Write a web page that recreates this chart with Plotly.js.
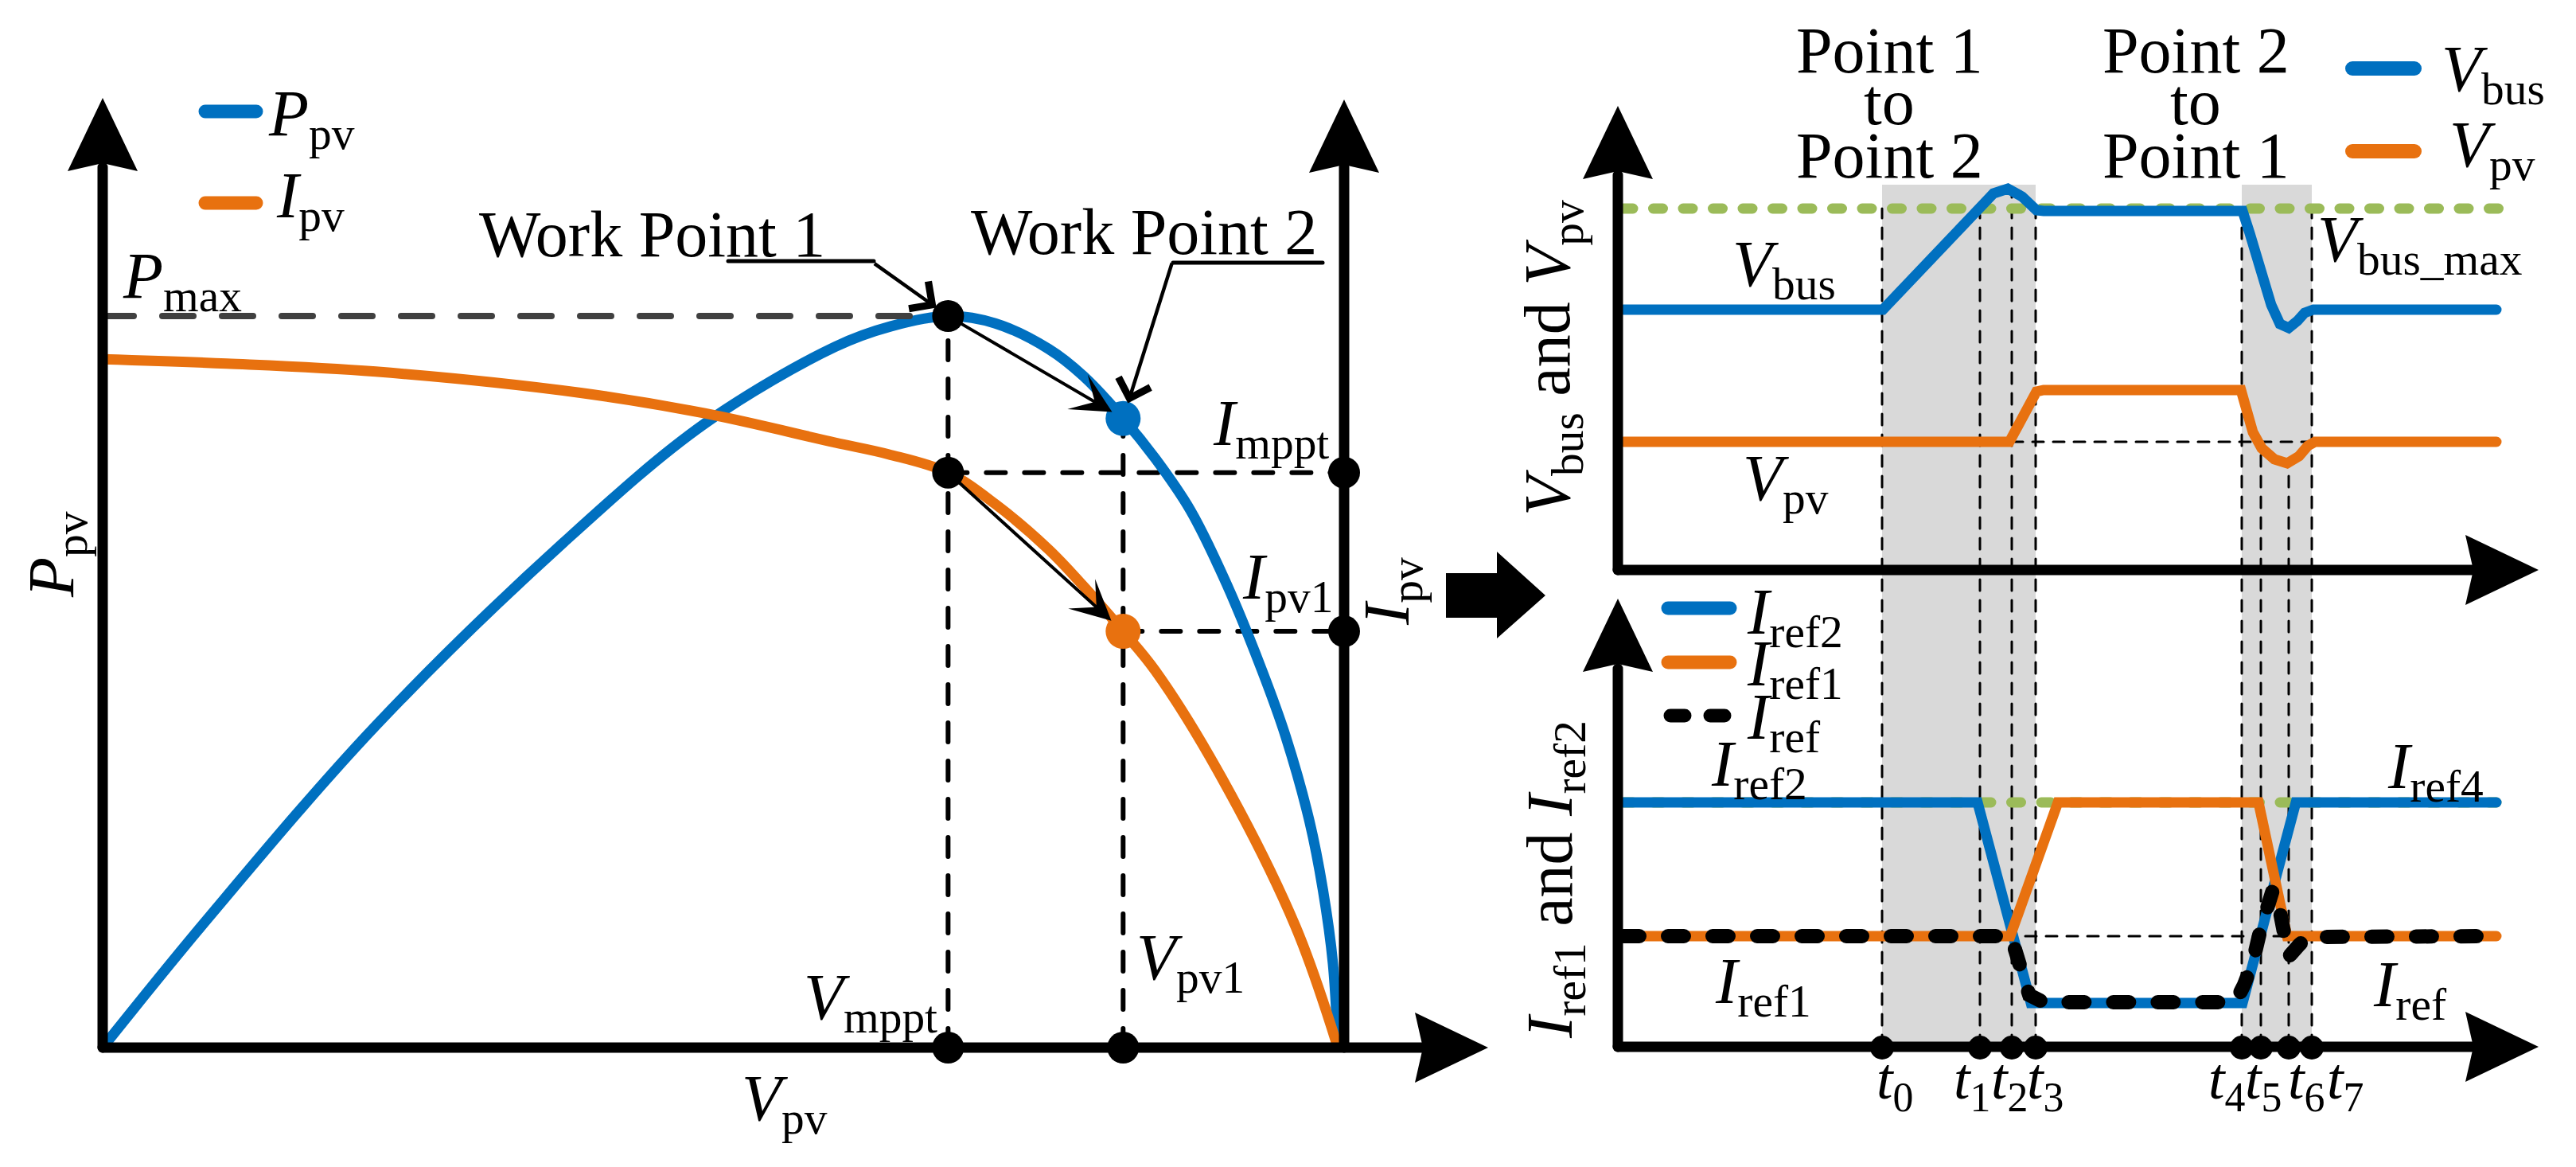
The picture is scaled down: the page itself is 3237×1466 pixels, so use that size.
<!DOCTYPE html>
<html><head><meta charset="utf-8">
<script src="https://cdn.plot.ly/plotly-3.0.1.min.js"></script>
<style>
html,body{margin:0;padding:0;background:#fff;}
#chart{width:3237px;height:1466px;}
.js-line, .shapelayer path { stroke-linecap: round !important; }
</style></head><body><div id="chart"></div>
<script>
// ---------------- DATA ----------------
// Left panel: normalised P-V and I-V curves (V / Voc)
const pvVoltage = [0, 0.084, 0.22, 0.371, 0.485, 0.59, 0.635, 0.681, 0.719, 0.762, 0.79, 0.822, 0.848, 0.876, 0.905, 0.934, 0.953, 0.972, 0.983, 0.991, 0.995];
const pvPower   = [0, 0.175, 0.44, 0.69, 0.853, 0.958, 0.986, 1.0, 0.990, 0.955, 0.918, 0.860, 0.805, 0.735, 0.635, 0.515, 0.425, 0.31, 0.215, 0.115, 0];
const ivVoltage = [0, 0.1, 0.22, 0.385, 0.485, 0.59, 0.633, 0.681, 0.719, 0.762, 0.79, 0.822, 0.848, 0.901, 0.961, 0.995];
const ivCurrent = [0.941, 0.935, 0.924, 0.895, 0.867, 0.827, 0.811, 0.786, 0.743, 0.681, 0.631, 0.569, 0.515, 0.37, 0.165, 0];
const Voc = 1.0, Vmppt = 0.681, Vpv1 = 0.822, Pmax = 1.0, Pwp2 = 0.860, Imppt = 0.786, Ipv1 = 0.569;

// Right panels: time instants t0..t7
const tNames    = ['0','1','2','3','4','5','6','7'];
const tInstants = [33.2, 45.5, 49.5, 52.5, 78.4, 80.8, 84.3, 87.2];
const tLineTops = [262, 270, 240, 262, 262, 560, 583, 262]; // pixel tops of guide lines

// Top: Vbus and Vpv
const vbusTime  = [0.7, 33.3, 47.2, 49.0, 50.8, 51.7, 52.6, 53.5, 78.5, 79.4, 80.7, 82.1, 83.2, 84.3, 85.4, 86.3, 87.4, 110.4];
const vbusValue = [32.7, 32.7, 47.3, 47.9, 46.9, 45.9, 45.2, 45.1, 45.1, 42.3, 37.6, 33.3, 30.9, 30.4, 31.3, 32.3, 32.7, 32.7];
const vpvTime   = [0.7, 49.2, 52.6, 53.5, 78.3, 78.9, 79.8, 80.9, 82.5, 84.1, 85.6, 86.7, 87.6, 110.4];
const vpvValue  = [16.1, 16.1, 22.4, 22.6, 22.6, 20.6, 17.3, 15.3, 13.9, 13.4, 14.3, 15.6, 16.1, 16.1];
const vbusMaxTime = [0.7, 111.3];
const vbusMax = 45.4;
const vpvBase = 16.1;

// Bottom: Iref2, Iref1, Iref
const iref2Time  = [0.7, 45.2, 51.9, 78.5, 85.2, 110.4];
const iref2Value = [30.8, 30.8, 5.6, 5.6, 30.8, 30.8];
const iref1Time  = [0.7, 49.3, 55.3, 80.5, 84.1, 110.4];
const iref1Value = [14.0, 14.0, 30.8, 30.8, 14.0, 14.0];
const irefTime   = [0.7, 49.4, 50.8, 51.7, 53.5, 77.6, 78.7, 79.8, 80.7, 81.6, 82.3, 83.0, 83.6, 84.3, 85.6, 86.7, 110.4];
const irefValue  = [14.0, 14.0, 9.4, 6.6, 5.7, 5.7, 7.9, 10.8, 14.6, 18.2, 19.8, 18.1, 14.3, 11.4, 12.9, 13.9, 14.0];
const iref2Level = 30.8, iref1Base = 14.0;
const irefLevelTime = [0.7, 110.4];

// ---------------- STYLE ----------------
const W = 3237, H = 1466;
const X = v => v / W, Y = v => 1 - v / H;
const BLUE = '#0070c0', ORANGE = '#e8710f', GREEN = '#9bbb59', GRAY = '#d9d9d9';
const FONT = 'Liberation Serif, "Times New Roman", serif';

const traces = [];
// left panel
traces.push({x: pvVoltage, y: pvPower, xaxis:'x', yaxis:'y', mode:'lines', line:{color:BLUE, width:13, shape:'spline', smoothing:1}, cliponaxis:false});
traces.push({x: ivVoltage, y: ivCurrent, xaxis:'x', yaxis:'y', mode:'lines', line:{color:ORANGE, width:13, shape:'spline', smoothing:1}, cliponaxis:false});
traces.push({x: [0, Vmppt], y: [Pmax, Pmax], xaxis:'x', yaxis:'y', mode:'lines', line:{color:'#404040', width:8, dash:'39px,36px'}, cliponaxis:false});
traces.push({x: [Vmppt, Vmppt, Voc, Voc, Vmppt, Vpv1], y: [Pmax, Imppt, Imppt, Ipv1, 0, 0], xaxis:'x', yaxis:'y', mode:'markers', marker:{color:'#000', size:40}, cliponaxis:false});
traces.push({x: [Vpv1], y: [Pwp2], xaxis:'x', yaxis:'y', mode:'markers', marker:{color:BLUE, size:44}, cliponaxis:false});
traces.push({x: [Vpv1], y: [Ipv1], xaxis:'x', yaxis:'y', mode:'markers', marker:{color:ORANGE, size:44}, cliponaxis:false});
// top right panel
traces.push({x: vbusMaxTime, y: [vbusMax, vbusMax], xaxis:'x2', yaxis:'y2', mode:'lines', line:{color:GREEN, width:13, dash:'12px,25.5px'}, cliponaxis:false});
traces.push({x: vbusTime, y: vbusValue, xaxis:'x2', yaxis:'y2', mode:'lines', line:{color:BLUE, width:13}, cliponaxis:false});
traces.push({x: vpvTime, y: vpvValue, xaxis:'x2', yaxis:'y2', mode:'lines', line:{color:ORANGE, width:13}, cliponaxis:false});
// bottom right panel
traces.push({x: irefLevelTime, y: [iref2Level, iref2Level], xaxis:'x3', yaxis:'y3', mode:'lines', line:{color:GREEN, width:13, dash:'12px,25.5px'}, cliponaxis:false});
traces.push({x: iref2Time, y: iref2Value, xaxis:'x3', yaxis:'y3', mode:'lines', line:{color:BLUE, width:13}, cliponaxis:false});
traces.push({x: iref1Time, y: iref1Value, xaxis:'x3', yaxis:'y3', mode:'lines', line:{color:ORANGE, width:13}, cliponaxis:false});
traces.push({x: irefTime, y: irefValue, xaxis:'x3', yaxis:'y3', mode:'lines', line:{color:'#000', width:18, dash:'20px,36px'}, cliponaxis:false});
traces.push({x: tInstants, y: tInstants.map(() => 0), xaxis:'x3', yaxis:'y3', mode:'markers', marker:{color:'#000', size:30}, cliponaxis:false});

// ---------------- SHAPES ----------------
const shapes = [];
function pline(x0, y0, x1, y1, width, color, layer, dash) {
  shapes.push({type:'line', xref:'paper', yref:'paper', x0:X(x0), y0:Y(y0), x1:X(x1), y1:Y(y1),
    line:{color:color || '#000', width:width, dash: dash || 'solid'}, layer: layer || 'above'});
}
function poly(pts, color) {
  const d = pts.map((p, i) => (i ? 'L' : 'M') + X(p[0]).toFixed(6) + ',' + Y(p[1]).toFixed(6)).join(' ') + ' Z';
  shapes.push({type:'path', xref:'paper', yref:'paper', path:d, fillcolor:color || '#000', line:{width:0}, layer:'above'});
}
const upHead = (x, t) => poly([[x, t], [x + 44, t + 92], [x, t + 82], [x - 44, t + 92]]);
const rightHead = (t, y) => poly([[t, y], [t - 92, y - 44], [t - 82, y], [t - 92, y + 44]]);

// shading bands and guide lines (below traces)
shapes.push({type:'rect', xref:'x2', yref:'paper', x0:tInstants[0], x1:tInstants[3], y0:Y(1314), y1:Y(232), fillcolor:GRAY, line:{width:0}, layer:'below'});
shapes.push({type:'rect', xref:'x2', yref:'paper', x0:tInstants[4], x1:tInstants[7], y0:Y(1314), y1:Y(232), fillcolor:GRAY, line:{width:0}, layer:'below'});
tInstants.forEach((t, i) => {
  shapes.push({type:'line', xref:'x2', yref:'paper', x0:t, x1:t, y0:Y(1314), y1:Y(tLineTops[i]), line:{color:'#000', width:3, dash:'14px,12px'}, layer:'below'});
});
shapes.push({type:'line', xref:'x2', yref:'y2', x0:tInstants[2], x1:tInstants[7], y0:vpvBase, y1:vpvBase, line:{color:'#000', width:3, dash:'14px,12px'}, layer:'below'});
shapes.push({type:'line', xref:'x3', yref:'y3', x0:51.2, x1:86.1, y0:iref1Base, y1:iref1Base, line:{color:'#000', width:3, dash:'14px,12px'}, layer:'below'});
// left panel guide lines
const lg = {color:'#000', width:6, dash:'24px,24px'};
shapes.push({type:'line', xref:'x', yref:'y', x0:Vmppt, x1:Vmppt, y0:0, y1:Pmax, line:lg, layer:'below'});
shapes.push({type:'line', xref:'x', yref:'y', x0:Vpv1, x1:Vpv1, y0:0, y1:Pwp2, line:lg, layer:'below'});
shapes.push({type:'line', xref:'x', yref:'y', x0:Vmppt, x1:Voc, y0:Imppt, y1:Imppt, line:lg, layer:'below'});
shapes.push({type:'line', xref:'x', yref:'y', x0:Vpv1, x1:Voc, y0:Ipv1, y1:Ipv1, line:lg, layer:'below'});

// axes (left panel)
pline(129, 1316, 129, 210, 13); upHead(129, 123);
pline(129, 1316, 1790, 1316, 13); rightHead(1870, 1316);
pline(1689, 1316, 1689, 210, 13); upHead(1689, 125);
// axes (right panels)
pline(2033, 716, 2033, 220, 13); upHead(2033, 133);
pline(2033, 716, 3110, 716, 13); rightHead(3190, 716);
pline(2033, 1315, 2033, 840, 13); upHead(2033, 752);
pline(2033, 1315, 3110, 1315, 13); rightHead(3190, 1315);
// big arrow between panels
poly([[1817, 720], [1881, 720], [1881, 693], [1942, 748], [1881, 802], [1881, 776], [1817, 776]]);
// work point underlines
pline(915, 328, 1098, 328, 5);
pline(1474, 330, 1662, 330, 5);
// legend samples
pline(258, 140, 322, 140, 17, BLUE); pline(258, 255, 322, 255, 17, ORANGE);
pline(2956, 86, 3034, 86, 18, BLUE); pline(2956, 190, 3034, 190, 18, ORANGE);
pline(2096, 764, 2174, 764, 17, BLUE); pline(2096, 832, 2174, 832, 17, ORANGE);
pline(2099, 899, 2117, 899, 17, '#000'); pline(2149, 899, 2167, 899, 17, '#000');

// ---------------- ANNOTATIONS ----------------
const ann = [];
function txt(text, x, y, xa, opts) {
  ann.push(Object.assign({text:text, xref:'paper', yref:'paper', x:X(x), y:Y(y), xanchor:xa || 'center', yanchor:'middle',
    showarrow:false, font:{family:FONT, size:82, color:'#000'}}, opts || {}));
}
// left panel texts
txt('<i>P</i><sub>pv</sub>', 335, 148, 'left');
txt('<i>I</i><sub>pv</sub>', 345, 251, 'left');
txt('<i>P</i><sub>max</sub>', 152, 352, 'left');
txt('Work Point 1', 820, 294);
txt('Work Point 2', 1437, 291);
txt('<i>I</i><sub>mppt</sub>', 1672, 537, 'right');
txt('<i>I</i><sub>pv1</sub>', 1677, 730, 'right');
txt('<i>V</i><sub>mppt</sub>', 1180, 1258, 'right');
txt('<i>V</i><sub>pv1</sub>', 1426, 1208, 'left');
txt('<i>V</i><sub>pv</sub>', 930, 1385, 'left');
txt('<i>P</i><sub>pv</sub>', 70, 697, 'center', {textangle:-90});
txt('<i>I</i><sub>pv</sub>', 1748, 743, 'center', {textangle:-90});
// right panel texts
txt('Point 1', 2374, 63); txt('to', 2374, 128); txt('Point 2', 2374, 195);
txt('Point 2', 2759, 63); txt('to', 2759, 128); txt('Point 1', 2759, 195);
txt('<i>V</i><sub>bus</sub>', 3066, 92, 'left');
txt('<i>V</i><sub>pv</sub>', 3076, 187, 'left');
txt('<i>V</i><sub>bus</sub>', 2175, 337, 'left');
txt('<i>V</i><sub>pv</sub>', 2188, 606, 'left');
txt('<i>V</i><sub>bus_max</sub>', 2910, 306, 'left');
txt('<i>V</i><sub>bus</sub> and <i>V</i><sub>pv</sub>', 1950, 450, 'center', {textangle:-90});
txt('<i>I</i><sub>ref1</sub> and <i>I</i><sub>ref2</sub>', 1953, 1105, 'center', {textangle:-90});
txt('<i>I</i><sub>ref2</sub>', 2193, 774, 'left');
txt('<i>I</i><sub>ref1</sub>', 2193, 839, 'left');
txt('<i>I</i><sub>ref</sub>', 2193, 906, 'left');
txt('<i>I</i><sub>ref2</sub>', 2148, 965, 'left');
txt('<i>I</i><sub>ref1</sub>', 2153, 1238, 'left');
txt('<i>I</i><sub>ref4</sub>', 2998, 968, 'left');
txt('<i>I</i><sub>ref</sub>', 2980, 1242, 'left');
const tLabelX = [2381, 2478, 2525, 2570, 2798, 2844, 2898, 2947];
tNames.forEach((n, i) => txt('<i>t</i><sub>' + n + '</sub>', tLabelX[i], 1360, 'center', {font:{family:FONT, size:74, color:'#000'}}));

// arrows between work points
const arrowBase = {xref:'x', yref:'y', axref:'x', ayref:'y', showarrow:true, text:'', arrowhead:3, arrowsize:2.1, arrowwidth:4, arrowcolor:'#000'};
ann.push(Object.assign({}, arrowBase, {x:Vpv1, y:Pwp2, ax:Vmppt, ay:Pmax, standoff:16}));
ann.push(Object.assign({}, arrowBase, {x:Vpv1, y:Ipv1, ax:Vmppt, ay:Imppt, standoff:20}));
// leader lines for labels
const leadBase = {xref:'x', yref:'y', showarrow:true, text:' ', font:{size:1}, arrowhead:4, arrowsize:1.8, arrowwidth:4.5, arrowcolor:'#000'};
ann.push(Object.assign({}, leadBase, {x:Vmppt, y:Pmax, ax:-94, ay:-67, standoff:18}));
ann.push(Object.assign({}, leadBase, {x:Vpv1, y:Pwp2, ax:62, ay:-197, standoff:20}));

// ---------------- LAYOUT ----------------
const hidden = {visible:false, fixedrange:true, showgrid:false, zeroline:false};
const layout = {
  width:W, height:H, autosize:false, margin:{l:0, r:0, t:0, b:0, pad:0},
  paper_bgcolor:'#fff', plot_bgcolor:'rgba(0,0,0,0)', showlegend:false,
  xaxis: Object.assign({domain:[X(129), X(1870)], range:[0, 1741/1560], anchor:'y'}, hidden),
  yaxis: Object.assign({domain:[Y(1316), Y(123)], range:[0, (1316-123)/919], anchor:'x'}, hidden),
  xaxis2: Object.assign({domain:[X(2033), X(3190)], range:[0, 115.7], anchor:'y2'}, hidden),
  yaxis2: Object.assign({domain:[Y(716), Y(133)], range:[0, 58.3], anchor:'x2'}, hidden),
  xaxis3: Object.assign({domain:[X(2033), X(3190)], range:[0, 115.7], anchor:'y3'}, hidden),
  yaxis3: Object.assign({domain:[Y(1316), Y(752)], range:[0, 56.4], anchor:'x3'}, hidden),
  shapes: shapes, annotations: ann
};
Plotly.newPlot('chart', traces, layout, {staticPlot:true, displayModeBar:false});
</script></body></html>
